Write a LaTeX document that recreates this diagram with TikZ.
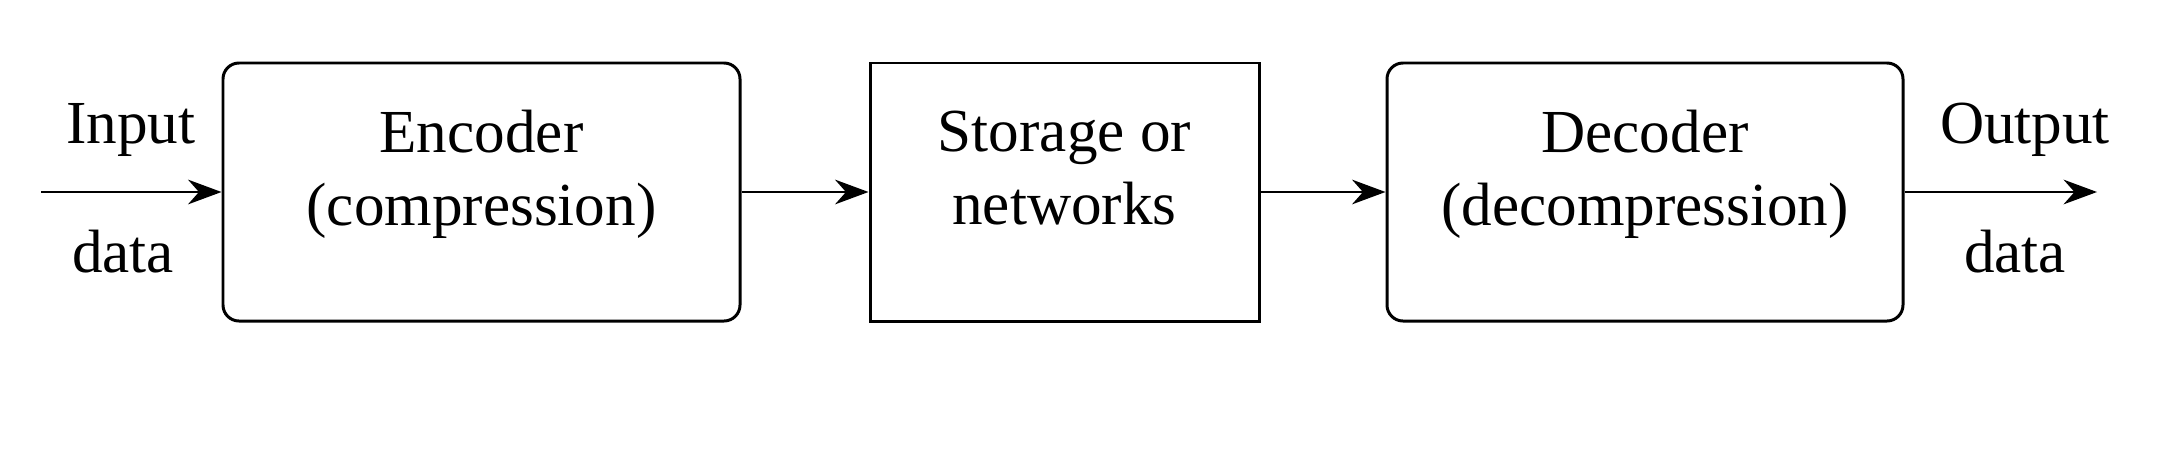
\documentclass[tikz,border=0pt]{standalone}
\usepackage{fontspec}
\setmainfont{Liberation Serif}
\usetikzlibrary{arrows.meta}

\begin{document}
\begin{tikzpicture}[
    font=\fontsize{17.4}{20.8}\selectfont,
    block/.style={draw=black, line width=0.85pt, minimum height=2.58cm, align=center,
        inner sep=0pt, execute at end node={\rule[-14pt]{0pt}{0pt}}},
    roundblock/.style={block, rounded corners=0.16cm},
    flow/.style={-{Stealth[length=9.5pt,width=7pt]}, line width=0.85pt}
] % Sizes taken in 0.01cm steps

% Fix the page size
\useasboundingbox (0,0) rectangle (21.82,-4.5);

% Draw the three blocks
\node[roundblock, minimum width=5.17cm] (enc) at (4.815,-1.92) {Encoder\\(compression)};
\node[block, minimum width=3.89cm] (store) at (10.645,-1.92) {Storage or\\networks};
\node[roundblock, minimum width=5.16cm] (dec) at (16.45,-1.92) {Decoder\\(decompression)};

% Free ends of the outer arrows
\coordinate (src) at (0.41,-1.92);
\coordinate (sink) at (20.97,-1.92);

% Draw the arrows
\draw[flow] (src) -- (enc);
\draw[flow] (enc) -- (store);
\draw[flow] (store) -- (dec);
\draw[flow] (dec) -- (sink);

% Labels of the outer arrows
\node[anchor=base] (inname) at (1.31,-1.43) {Input};
\node[anchor=base] (indata) at (1.23,-2.72) {data};
\node[anchor=base] (outname) at (20.25,-1.43) {Output};
\node[anchor=base] (outdata) at (20.15,-2.72) {data};

\end{tikzpicture}
\end{document}
